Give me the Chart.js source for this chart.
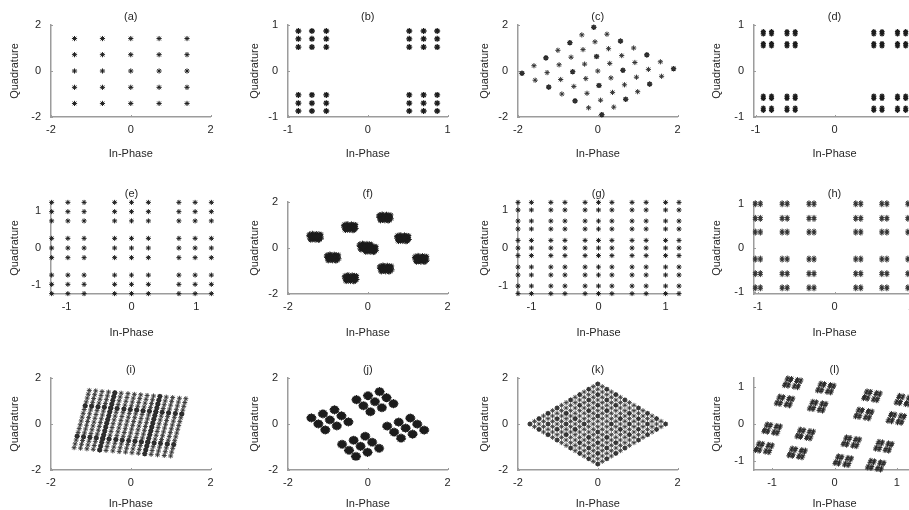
<!DOCTYPE html>
<html>
<head>
<meta charset="utf-8">
<script src="https://cdn.jsdelivr.net/npm/chart.js@4.4.1/dist/chart.umd.min.js"></script>
<style>
  html, body { margin: 0; padding: 0; background: #fff; width: 909px; height: 510px; overflow: hidden; position: relative; }
  canvas { position: absolute; }
</style>
</head>
<body>
<script>
// ---------- constellation data (I / Q coordinates) ----------

// (a) 5x5 square grid levels
const levelsA = [-1.41, -0.71, 0, 0.71, 1.41];

// (b) 6x6 levels, grouped by quadrant
const levelsB = [-0.87, -0.70, -0.52, 0.52, 0.70, 0.87];

// (c) rotated 7x7 lattice: offsets along the two lattice directions
const latticeC_U = [[-0.90, -1.00], [-0.60, -0.67], [-0.30, -0.33], [0, 0], [0.30, 0.33], [0.60, 0.67], [0.90, 1.00]];
const latticeC_V = [[-1.00, 0.90], [-0.67, 0.60], [-0.33, 0.30], [0, 0], [0.33, -0.30], [0.67, -0.60], [1.00, -0.90]];
const denseC = [0, 2, 4, 6];   // lattice indices where symbols coincide

// (d) quadrant / sub-cluster / symbol-pair offsets
const quadD_X = [-0.70, 0.70], quadD_Y = [-0.70, 0.70];
const subD_X = [-0.15, 0.15], subD_Y = [-0.13, 0.13];
const pairD_X = [-0.052, 0.052], pairD_Y = [-0.025, 0.025];

// (e) 9x9 grid levels
const levelsE = [-1.23, -0.98, -0.73, -0.26, 0, 0.26, 0.73, 0.98, 1.23];

// (f) noisy clusters: cluster centres and the scatter seen inside each one
const centresF = [[-1.32, 0.48], [-0.45, 0.90], [0.43, 1.32], [-0.88, -0.42], [-0.06, 0.05], [0.06, -0.05],
                  [0.88, 0.42], [-0.43, -1.32], [0.45, -0.90], [1.33, -0.48]];
const scatterF = [[0.02, 0.03], [-0.08, 0.05], [0.11, -0.02], [-0.03, -0.09], [0.06, 0.10], [-0.12, -0.04],
                  [0.09, 0.07], [-0.05, 0.13], [0.14, 0.04], [0.00, -0.14], [-0.10, 0.10], [0.07, -0.11],
                  [-0.15, 0.01], [0.12, -0.09], [-0.06, -0.12], [0.04, 0.15], [-0.13, -0.10], [0.16, -0.05],
                  [-0.02, 0.07], [0.05, -0.04], [-0.09, -0.01], [0.10, 0.13], [-0.16, 0.07], [0.02, -0.07],
                  [-0.04, 0.02], [0.13, 0.09], [-0.11, -0.14], [0.08, -0.15], [-0.07, 0.16], [0.15, 0.12],
                  [-0.14, 0.13], [0.01, 0.11], [-0.01, -0.03], [0.06, 0.02], [-0.08, -0.07], [0.11, -0.13]];

// (g) 11x11 grid levels
const levelsG = [-1.2, -1.0, -0.71, -0.5, -0.2, 0, 0.2, 0.5, 0.71, 1.0, 1.2];

// (h) 6x6 clusters of symbol pairs
const clusterH_X = [-1.0, -0.65, -0.30, 0.31, 0.65, 0.99];
const clusterH_Y = [-0.90, -0.58, -0.25, 0.36, 0.67, 1.0];
const pairH_X = [-0.033, 0.033], pairH_Y = [-0.022, 0.022];

// (i) sheared 16x16 grid: foot of each column, and the rise along a column
const columnsI = [[-1.42, -1.03], [-1.26, -1.05], [-1.10, -1.08], [-0.94, -1.10], [-0.78, -1.13], [-0.62, -1.15],
                  [-0.45, -1.17], [-0.29, -1.20], [-0.13, -1.22], [0.03, -1.25], [0.19, -1.27], [0.35, -1.29],
                  [0.51, -1.32], [0.67, -1.34], [0.84, -1.37], [1.00, -1.39]];
const rowsI = [[0, 0], [0.025, 0.166], [0.051, 0.332], [0.076, 0.498], [0.101, 0.664], [0.127, 0.830],
               [0.152, 0.996], [0.177, 1.162], [0.202, 1.328], [0.228, 1.494], [0.253, 1.660], [0.278, 1.826],
               [0.304, 1.992], [0.329, 2.158], [0.354, 2.324], [0.380, 2.490]];
const denseColsI = [4, 11], denseRowsI = [3, 11];

// (j) four rotated 3x3 groups of blobs
const centresJ = [[0.18, 0.97], [-0.95, 0.18], [0.95, -0.18], [-0.18, -0.97]];
const subJ_U = [[-0.29, -0.175], [0, 0], [0.29, 0.175]];
const subJ_V = [[-0.174, 0.262], [0, 0], [0.174, -0.262]];
const blobJ = [[0, 0], [0.045, 0.06], [-0.045, -0.06], [0.045, -0.06], [-0.045, 0.06],
               [0.065, 0], [-0.065, 0], [0, 0.09], [0, -0.09]];

// (k) 16x16 lattice rotated into a diamond
const levelsK = [-0.85, -0.737, -0.623, -0.51, -0.397, -0.283, -0.17, -0.057, 0.057, 0.17, 0.283, 0.397, 0.51, 0.623, 0.737, 0.85];
const dirK_U = [1, 1.024], dirK_V = [1, -1.024];
const denseK = [0, 2, 4, 6, 9, 11, 13, 15];

// (l) 4x4 tilted clusters, each a 4x4 block of symbols
const clusterL_U = [[-0.90, 0.24], [-0.37, 0.10], [0.37, -0.11], [0.89, -0.23]];
const clusterL_V = [[0.23, 0.87], [0.10, 0.38], [-0.10, -0.37], [-0.23, -0.88]];
const innerL_U = [[-0.106, 0.028], [-0.048, 0.013], [0.048, -0.013], [0.106, -0.028]];
const innerL_V = [[-0.028, -0.106], [-0.013, -0.048], [0.013, 0.048], [0.028, 0.106]];

// ---------- helpers that assemble point tables ----------
const grid = (xs, ys) => xs.flatMap(x => ys.map(y => [x, y]));
const lattice = (us, vs) => us.flatMap(u => vs.map(v => [u[0] + v[0], u[1] + v[1]]));
const spread = (centres, offsets) => centres.flatMap(c => offsets.map(o => [c[0] + o[0], c[1] + o[1]]));
const pick = (arr, idx) => idx.map(i => arr[i]);
const scaled = (levels, dir) => levels.map(s => [s * dir[0], s * dir[1]]);

const AXIS = '#9c9c9c', INK = '#262626', MARK = '#1c1c1c';
const FONT = { family: "'Liberation Sans', Arial, sans-serif", size: 11 };

const ROW_TOP = [25, 202, 378];
const COL_LEFT = [51, 288, 518, 754];
const PLOT_W = 161, PLOT_H = 92;
const ROW_XLABEL = [37, 38.5, 34];
const COL_YLABEL = [36, 33, 33, 37.5];

const bSet = (pts, r, bw, c) => ({ pts, r, bw, c: c || MARK });

const kU = scaled(levelsK, dirK_U), kV = scaled(levelsK, dirK_V);

const panels = [
  { t: '(a)', xr: [-2, 2], yr: [-2, 2], xt: [-2, 0, 2], yt: [-2, 0, 2],
    sets: [bSet(grid(levelsA, levelsA), 2.6, 1)] },
  { t: '(b)', xr: [-1, 1], yr: [-1, 1], xt: [-1, 0, 1], yt: [-1, 0, 1],
    sets: [bSet(grid(levelsB, levelsB), 3, 1.3)] },
  { t: '(c)', xr: [-2, 2], yr: [-2, 2], xt: [-2, 0, 2], yt: [-2, 0, 2],
    sets: [bSet(lattice(latticeC_U, latticeC_V), 2.6, 1, '#333'),
           bSet(lattice(pick(latticeC_U, denseC), pick(latticeC_V, denseC)), 2.6, 1.3)] },
  { t: '(d)', xr: [-1.02, 1.02], yr: [-1, 1], xt: [-1, 0, 1], yt: [-1, 0, 1],
    sets: [bSet(spread(spread(grid(quadD_X, quadD_Y), grid(subD_X, subD_Y)), grid(pairD_X, pairD_Y)), 2.6, 1.2)] },
  { t: '(e)', xr: [-1.24, 1.24], yr: [-1.24, 1.24], xt: [-1, 0, 1], yt: [-1, 0, 1],
    sets: [bSet(grid(levelsE, levelsE), 2.5, 1)] },
  { t: '(f)', xr: [-2, 2], yr: [-2, 2], xt: [-2, 0, 2], yt: [-2, 0, 2],
    sets: [bSet(spread(centresF, scatterF), 2.5, 1)] },
  { t: '(g)', xr: [-1.2, 1.2], yr: [-1.21, 1.21], xt: [-1, 0, 1], yt: [-1, 0, 1],
    sets: [bSet(grid(levelsG, levelsG), 2.5, 1)] },
  { t: '(h)', xr: [-1.05, 1.05], yr: [-1.04, 1.04], xt: [-1, 0, 1], yt: [-1, 0, 1],
    sets: [bSet(spread(grid(clusterH_X, clusterH_Y), grid(pairH_X, pairH_Y)), 2.5, 1, '#333')] },
  { t: '(i)', xr: [-2, 2], yr: [-2, 2], xt: [-2, 0, 2], yt: [-2, 0, 2],
    sets: [bSet(lattice(columnsI, rowsI), 2.5, 0.9, '#333'),
           bSet(lattice(pick(columnsI, denseColsI), rowsI).concat(lattice(columnsI, pick(rowsI, denseRowsI))), 2.5, 1.4)] },
  { t: '(j)', xr: [-2, 2], yr: [-2, 2], xt: [-2, 0, 2], yt: [-2, 0, 2],
    sets: [bSet(spread(spread(centresJ, lattice(subJ_U, subJ_V)), blobJ), 2.5, 1.1)] },
  { t: '(k)', xr: [-2, 2], yr: [-2, 2], xt: [-2, 0, 2], yt: [-2, 0, 2],
    sets: [bSet(lattice(kU, kV), 2.5, 0.9, '#3a3a3a'),
           bSet(lattice(pick(kU, denseK), pick(kV, denseK)), 2.3, 1.2)] },
  { t: '(l)', xr: [-1.29, 1.29], yr: [-1.24, 1.24], xt: [-1, 0, 1], yt: [-1, 0, 1],
    sets: [bSet(spread(lattice(clusterL_U, clusterL_V), lattice(innerL_U, innerL_V)), 2.4, 1, '#2a2a2a')] }
];

// panel caption "(a)" ... centred just above each axes box, plus short inward tick marks
const captionPlugin = {
  id: 'caption',
  beforeDatasetsDraw(chart) {
    const { ctx, chartArea, scales } = chart;
    ctx.save();
    ctx.strokeStyle = AXIS;
    ctx.lineWidth = 1;
    scales.x.ticks.forEach(t => {
      const px = Math.round(scales.x.getPixelForValue(t.value)) + 0.5;
      ctx.beginPath(); ctx.moveTo(px, chartArea.bottom); ctx.lineTo(px, chartArea.bottom - 2); ctx.stroke();
    });
    scales.y.ticks.forEach(t => {
      const py = Math.round(scales.y.getPixelForValue(t.value)) + 0.5;
      ctx.beginPath(); ctx.moveTo(chartArea.left, py); ctx.lineTo(chartArea.left + 2, py); ctx.stroke();
    });
    ctx.restore();
  },
  afterDraw(chart, args, opts) {
    const { ctx, chartArea } = chart;
    ctx.save();
    ctx.font = "11px 'Liberation Sans', Arial, sans-serif";
    ctx.fillStyle = INK;
    ctx.textAlign = 'center';
    ctx.textBaseline = 'middle';
    ctx.fillText(opts.text, (chartArea.left + chartArea.right) / 2, chartArea.top - 8);
    ctx.restore();
  }
};

const PAD_L = 50, PAD_T = 20, PAD_R = 8, PAD_B = 50;

panels.forEach((p, k) => {
  const row = Math.floor(k / 4), col = k % 4;
  const left = COL_LEFT[col], top = ROW_TOP[row];
  const cv = document.createElement('canvas');
  cv.width = PAD_L + PLOT_W + PAD_R;
  cv.height = PAD_T + PLOT_H + PAD_B;
  cv.style.width = cv.width + 'px';
  cv.style.height = cv.height + 'px';
  cv.style.left = (left - PAD_L) + 'px';
  cv.style.top = (top - PAD_T) + 'px';
  document.body.appendChild(cv);

  const xLabelOff = ROW_XLABEL[row], yLabelOff = COL_YLABEL[col];

  new Chart(cv, {
    type: 'scatter',
    data: {
      datasets: p.sets.map(s => ({
        data: s.pts.map(([x, y]) => ({ x, y })),
        pointStyle: 'star',
        pointRadius: s.r,
        pointHoverRadius: s.r,
        borderWidth: s.bw,
        borderColor: s.c,
        backgroundColor: s.c,
        clip: false
      }))
    },
    options: {
      responsive: false,
      animation: false,
      devicePixelRatio: 1,
      events: [],
      layout: { padding: { top: PAD_T, right: PAD_R, left: 0, bottom: 0 } },
      plugins: { legend: { display: false }, tooltip: { enabled: false }, caption: { text: p.t } },
      scales: {
        x: {
          type: 'linear', min: p.xr[0], max: p.xr[1],
          afterFit: s => { s.height = PAD_B; },
          afterBuildTicks: s => { s.ticks = p.xt.map(v => ({ value: v })); },
          grid: { display: false, drawTicks: false },
          border: { display: true, color: AXIS, width: 1.5 },
          ticks: { padding: 6.4, color: INK, font: FONT, maxRotation: 0, autoSkip: false, callback: v => String(v) },
          title: { display: true, text: 'In-Phase', color: INK, font: FONT, padding: { top: 0, bottom: PAD_B - 6.6 - xLabelOff } }
        },
        y: {
          type: 'linear', min: p.yr[0], max: p.yr[1],
          afterFit: s => { s.width = PAD_L; },
          afterBuildTicks: s => { s.ticks = p.yt.map(v => ({ value: v })); },
          grid: { display: false, drawTicks: false },
          border: { display: true, color: AXIS, width: 1.5 },
          ticks: { padding: 10, color: INK, font: FONT, autoSkip: false, callback: v => String(v) },
          title: { display: true, text: 'Quadrature', color: INK, font: FONT, padding: { top: PAD_L - yLabelOff - 6.6, bottom: 0 } }
        }
      }
    },
    plugins: [captionPlugin]
  });
});
</script>
</body>
</html>
